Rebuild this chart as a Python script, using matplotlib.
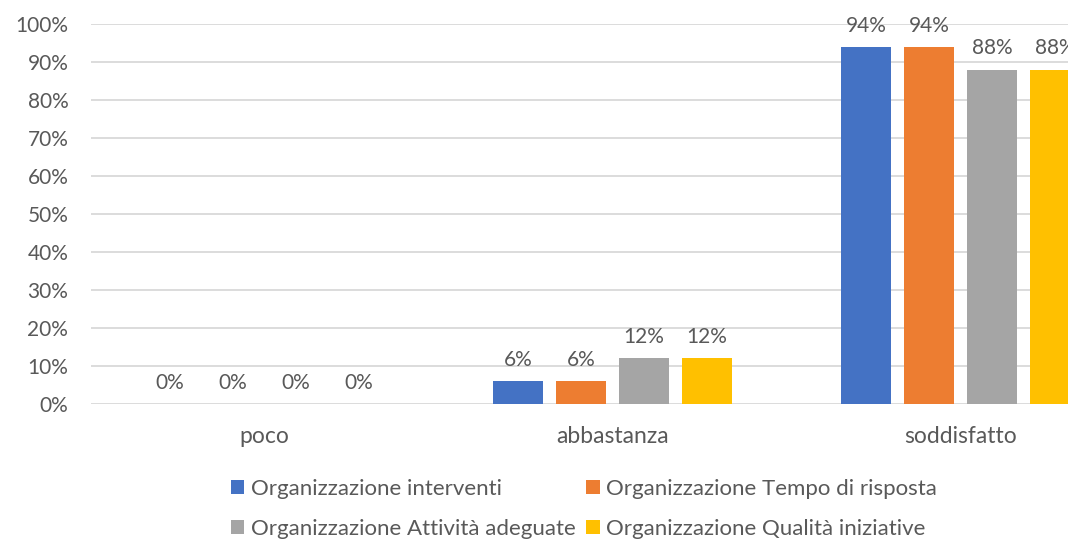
import numpy as np
import matplotlib.pyplot as plt
from matplotlib.patches import Patch

plt.rcParams['font.family'] = ['Lato', 'DejaVu Sans']

categories = ["poco", "abbastanza", "soddisfatto"]
series = ["Organizzazione interventi",
          "Organizzazione Tempo di risposta",
          "Organizzazione Attività adeguate",
          "Organizzazione Qualità iniziative"]
values = [
    [0, 6, 94],
    [0, 6, 94],
    [0, 12, 88],
    [0, 12, 88],
]
colors = ["#4472C4", "#ED7D31", "#A5A5A5", "#FFC000"]
yticks = [0, 10, 20, 30, 40, 50, 60, 70, 80, 90, 100]

txt = "#595959"
fs = 15

fig = plt.figure(figsize=(10.68, 5.44), dpi=100)
# plot area runs past the right edge, as in the reference
ax = fig.add_axes([90.5 / 1068, 140 / 544, 1044 / 1068, 380 / 544])

x = np.arange(len(categories))
w = 0.144
step = 0.181
for i, (vals, c) in enumerate(zip(values, colors)):
    pos = x + (i - 1.5) * step
    ax.bar(pos, vals, width=w, color=c, zorder=3)
    for p, v in zip(pos, vals):
        ax.annotate(f"{v}%", (p, v), xytext=(0, 8), textcoords="offset points",
                    ha="center", va="bottom", fontsize=fs, color=txt)

ax.set_xlim(-0.5, len(categories) - 0.5)
ax.set_ylim(0, 100)
ax.set_yticks(yticks)
ax.set_yticklabels([f"{t}%" for t in yticks])
ax.set_xticks(x)
ax.set_xticklabels(categories, fontsize=16.5)
ax.tick_params(axis="both", length=0, colors=txt)
ax.tick_params(axis="y", pad=16, labelsize=fs)
ax.tick_params(axis="x", pad=16)
ax.grid(axis="y", color="#D9D9D9", linewidth=1.3, zorder=0)
for s in ax.spines.values():
    s.set_visible(False)

# legend order so rows read: interventi, Tempo / Attività, Qualità
order = [0, 2, 1, 3]
handles = [Patch(facecolor=colors[i], label=series[i]) for i in order]
fig.legend(handles=handles, ncol=2, loc="center", bbox_to_anchor=(584 / 1068, 1 - 509 / 544),
           frameon=False, fontsize=16, labelcolor=txt, handlelength=0.6, handleheight=0.6,
           handletextpad=0.3, columnspacing=0.5, labelspacing=0.9)

fig.savefig("out.png", dpi=100)
